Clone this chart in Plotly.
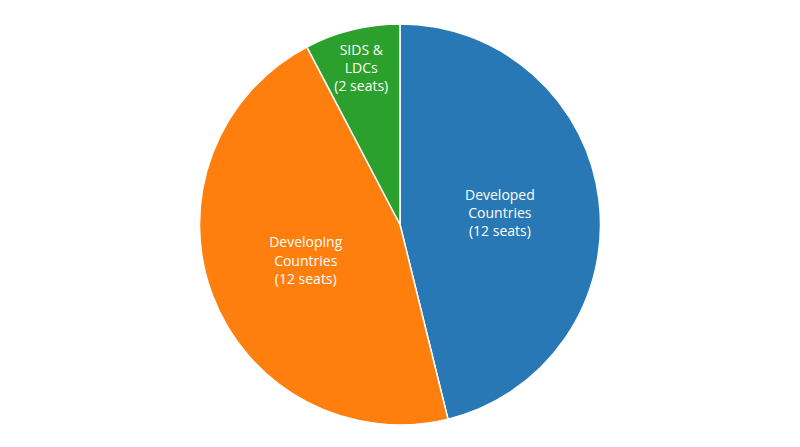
import plotly.graph_objects as go

groups = ["Developed<br>Countries", "Developing<br>Countries", "SIDS &<br>LDCs"]
seats = [12, 12, 2]
colors = ["#2878b5", "#ff7f0e", "#2ca02c"]

labels = [f"{g}<br>({s} seats)" for g, s in zip(groups, seats)]

fig = go.Figure(go.Pie(
    labels=labels,
    values=seats,
    text=labels,
    textinfo="text",
    textposition="inside",
    insidetextorientation="horizontal",
    sort=False,
    direction="clockwise",
    marker=dict(colors=colors, line=dict(color="white", width=1.5)),
    textfont=dict(color="white", size=14),
    showlegend=False,
))

fig.update_layout(
    font=dict(family="Open Sans, sans-serif"),
    width=800, height=447,
    margin=dict(l=0, r=16, t=16, b=30),
    paper_bgcolor="white",
)

fig.write_html("out.html")
